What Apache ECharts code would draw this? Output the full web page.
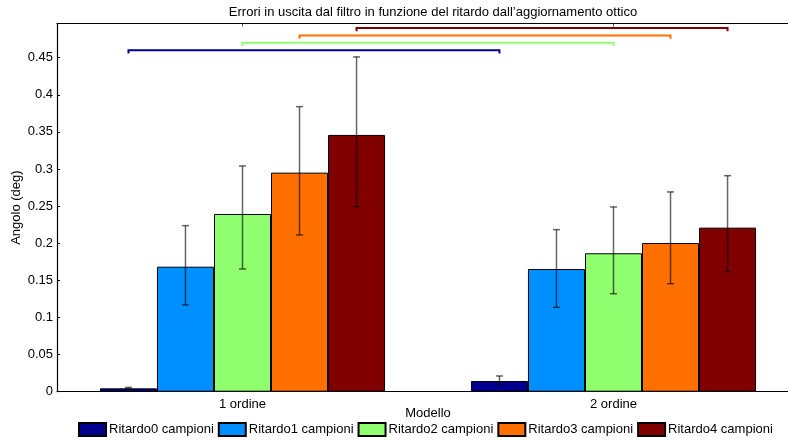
<!DOCTYPE html>
<html>
<head>
<meta charset="utf-8">
<script src="https://cdn.jsdelivr.net/npm/echarts@6/dist/echarts.min.js"></script>
<style>
  html, body { margin: 0; padding: 0; background: #fff; }
  #chart { width: 788px; height: 441px; }
</style>
</head>
<body>
<div id="chart"></div>
<script>
// Categories (models) and delay series
const categories = ['1 ordine', '2 ordine'];
const seriesNames = ['Ritardo0 campioni', 'Ritardo1 campioni', 'Ritardo2 campioni', 'Ritardo3 campioni', 'Ritardo4 campioni'];
const seriesColors = ['#00008F', '#008FFF', '#8FFF70', '#FF7000', '#800000'];

// Mean angle error (deg) per model
const ritardo0 = [0.0045, 0.0144];
const ritardo1 = [0.1684, 0.1653];
const ritardo2 = [0.2394, 0.1865];
const ritardo3 = [0.2951, 0.2003];
const ritardo4 = [0.3459, 0.2210];

// Error bar bounds (lower / upper) per model
const ritardo0Low = [0.0035, 0.0100], ritardo0High = [0.0058, 0.0212];
const ritardo1Low = [0.1168, 0.1137], ritardo1High = [0.2237, 0.2183];
const ritardo2Low = [0.1653, 0.1320], ritardo2High = [0.3041, 0.2489];
const ritardo3Low = [0.2111, 0.1455], ritardo3High = [0.3840, 0.2691];
const ritardo4Low = [0.2493, 0.1617], ritardo4High = [0.4510, 0.2910];

// Comparison brackets: which delay series they join, and their height
const bracketSeries = [0, 2, 3, 4];
const bracketLevels = [0.46, 0.47, 0.48, 0.49];

// Y axis ticks
const yMin = 0, yMax = 0.496, yStep = 0.05;

const means = [ritardo0, ritardo1, ritardo2, ritardo3, ritardo4];
const lows = [ritardo0Low, ritardo1Low, ritardo2Low, ritardo3Low, ritardo4Low];
const highs = [ritardo0High, ritardo1High, ritardo2High, ritardo3High, ritardo4High];

const BAR_FRAC = 0.1537;   // bar width as fraction of a category band
const FONT = '"Liberation Sans", Arial, Helvetica, sans-serif';

const barSeries = seriesNames.map((name, s) => ({
  name: name,
  type: 'bar',
  data: means[s],
  barWidth: (BAR_FRAC * 100) + '%',
  barGap: '0%',
  itemStyle: { color: seriesColors[s], borderColor: '#000', borderWidth: 1 },
  emphasis: { disabled: true },
  z: 2
}));

const errData = [];
for (let s = 0; s < seriesNames.length; s++) {
  for (let c = 0; c < categories.length; c++) {
    errData.push([c, lows[s][c], highs[s][c], s]);
  }
}

const bracketData = bracketSeries.map((s, i) => [0, bracketLevels[i], s]);

function offsetX(api, cat, s) {
  const band = api.size([1, 0])[0];
  const bw = band * BAR_FRAC;
  return api.coord([cat, 0])[0] + (s - 2) * bw;
}

const option = {
  animation: false,
  backgroundColor: '#fff',
  textStyle: { fontFamily: FONT, color: '#000' },
  title: {
    text: "Errori in uscita dal filtro in funzione del ritardo dall\u2019aggiornamento ottico",
    left: 428, top: 1, textAlign: 'center',
    textStyle: { fontSize: 13, fontWeight: 'normal', color: '#000', fontFamily: FONT }
  },
  legend: {
    data: seriesNames,
    left: 78, top: 422, padding: 0,
    itemWidth: 27, itemHeight: 13, itemGap: 4,
    icon: 'rect',
    textStyle: { fontSize: 13, color: '#000', fontFamily: FONT, padding: [0, 0, 0, -2] },
    selectedMode: false
  },
  grid: { left: 57, width: 742, top: 23.5, height: 368.2, outerBoundsMode: 'none', containLabel: false },
  xAxis: [{
    type: 'category',
    data: categories,
    name: 'Modello',
    nameLocation: 'middle',
    nameGap: 15,
    nameMoveOverlap: false,
    nameTextStyle: { fontSize: 13, color: '#000', fontFamily: FONT },
    axisLine: { lineStyle: { color: '#000', width: 1.2 } },
    axisTick: { show: true, inside: true, alignWithLabel: true, length: 3, lineStyle: { color: '#000' } },
    axisLabel: { fontSize: 13, color: '#000', margin: 6, fontFamily: FONT },
    splitLine: { show: false }
  }, {
    type: 'category',
    data: categories,
    position: 'top',
    axisLine: { lineStyle: { color: '#000', width: 1.2 } },
    axisTick: { show: true, inside: true, alignWithLabel: true, length: 3, lineStyle: { color: '#555' } },
    axisLabel: { show: false },
    splitLine: { show: false }
  }],
  yAxis: {
    type: 'value',
    min: yMin, max: yMax, interval: yStep,
    name: 'Angolo (deg)',
    nameLocation: 'middle',
    nameGap: 34,
    nameMoveOverlap: false,
    nameTextStyle: { fontSize: 13, color: '#000', fontFamily: FONT },
    axisLine: { show: true, lineStyle: { color: '#000', width: 1.2 } },
    axisTick: { show: true, inside: true, length: 3, lineStyle: { color: '#000' } },
    axisLabel: { fontSize: 13, color: '#000', margin: 4, showMaxLabel: false, fontFamily: FONT },
    splitLine: { show: false }
  },
  series: barSeries.concat([{
    name: 'errori',
    type: 'custom',
    data: errData,
    z: 5,
    renderItem: function (params, api) {
      const cat = api.value(0);
      const s = api.value(3);
      const x = offsetX(api, cat, s);
      const yLo = api.coord([cat, api.value(1)])[1];
      const yHi = api.coord([cat, api.value(2)])[1];
      const cap = 3.5;
      const st = { stroke: 'rgba(0,0,0,0.6)', lineWidth: 1.5 };
      return {
        type: 'group',
        children: [
          { type: 'line', shape: { x1: x, y1: yLo, x2: x, y2: yHi }, style: st },
          { type: 'line', shape: { x1: x - cap, y1: yHi, x2: x + cap, y2: yHi }, style: st },
          { type: 'line', shape: { x1: x - cap, y1: yLo, x2: x + cap, y2: yLo }, style: st }
        ]
      };
    }
  }, {
    name: 'confronti',
    type: 'custom',
    data: bracketData,
    z: 6,
    renderItem: function (params, api) {
      const level = api.value(1);
      const s = api.value(2);
      const x1 = offsetX(api, 0, s);
      const x2 = offsetX(api, 1, s);
      const y = api.coord([0, level])[1];
      const yd = api.coord([0, level - 0.0045])[1];
      return {
        type: 'polyline',
        shape: { points: [[x1, yd], [x1, y], [x2, y], [x2, yd]] },
        style: { stroke: seriesColors[s], lineWidth: 2, fill: null }
      };
    }
  }])
};

const chart = echarts.init(document.getElementById('chart'), null, { renderer: 'canvas' });
chart.setOption(option);
</script>
</body>
</html>
